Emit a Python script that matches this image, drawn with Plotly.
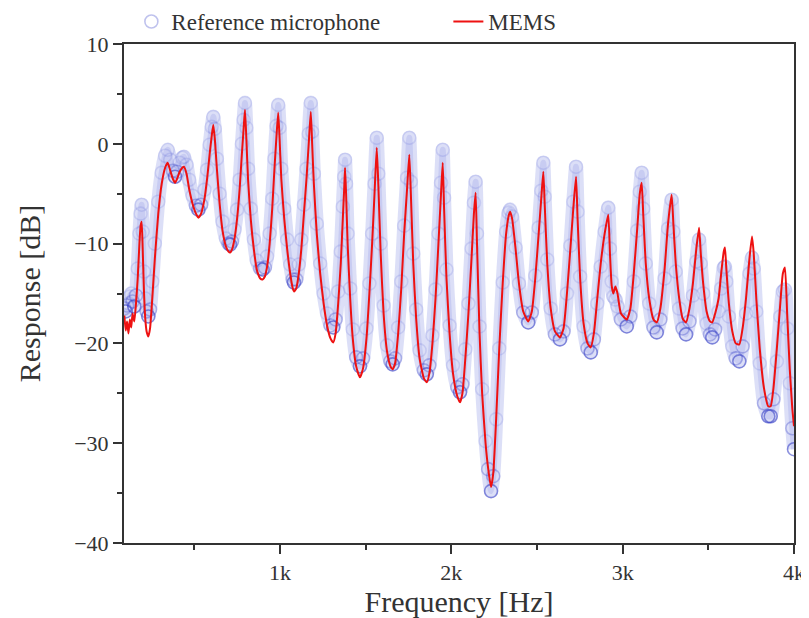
import plotly.graph_objects as go

# Frequency points (Hz)
freq = [92, 100, 108, 116, 124, 132, 140, 150, 160, 170, 180, 187, 193, 199, 206, 214, 222, 232, 242, 255,
        270, 290, 310, 330, 345, 360, 375, 388, 400, 415, 430, 440, 455, 470, 490, 510, 524, 540, 560, 575,
        590, 602, 611, 620, 632, 648, 665, 685, 700, 709, 720, 735, 750, 765, 778, 788, 796, 804, 814, 830,
        848, 865, 885, 899, 912, 925, 940, 955, 968, 980, 990, 998, 1008, 1025, 1042, 1060, 1075, 1082, 1095, 1110,
        1125, 1140, 1155, 1168, 1180, 1188, 1198, 1215, 1235, 1255, 1275, 1295, 1311, 1325, 1340, 1355, 1367, 1375, 1380, 1386,
        1395, 1410, 1425, 1445, 1467, 1485, 1505, 1522, 1538, 1552, 1565, 1574, 1588, 1605, 1625, 1645, 1658, 1672, 1690, 1708,
        1725, 1742, 1755, 1764, 1778, 1795, 1815, 1840, 1857, 1872, 1890, 1908, 1925, 1940, 1950, 1958, 1972, 1990, 2010, 2035,
        2051, 2065, 2082, 2100, 2118, 2132, 2142, 2150, 2165, 2180, 2200, 2215, 2232, 2245, 2262, 2280, 2300, 2320, 2335, 2343,
        2355, 2375, 2395, 2420, 2449, 2470, 2490, 2510, 2525, 2537, 2545, 2560, 2580, 2605, 2634, 2655, 2675, 2695, 2712, 2728,
        2737, 2752, 2772, 2795, 2814, 2832, 2852, 2872, 2895, 2916, 2926, 2936, 2946, 2958, 2970, 2990, 3024, 3045, 3065, 3085,
        3100, 3111, 3120, 3135, 3155, 3180, 3199, 3220, 3245, 3265, 3286, 3296, 3310, 3330, 3350, 3370, 3390, 3410, 3430, 3446,
        3456, 3470, 3490, 3510, 3523, 3540, 3560, 3575, 3590, 3597, 3605, 3620, 3640, 3660, 3681, 3700, 3720, 3740, 3755, 3765,
        3780, 3800, 3825, 3850, 3864, 3880, 3900, 3920, 3935, 3947, 3960, 3975, 3990, 4000]

# MEMS response (dB)
mems_db = [-17.2, -18.7, -17.8, -19.0, -17.6, -18.4, -17.0, -17.8, -16.0, -13.5, -10.0, -8.2, -7.8, -10.5, -14.5, -17.5, -18.8, -19.3, -18.5, -15.5,
           -11.5, -7.0, -4.0, -2.4, -1.9, -2.7, -3.5, -3.9, -3.5, -2.8, -2.4, -2.3, -3.0, -4.5, -6.0, -7.0, -7.4, -7.0, -5.5, -3.5,
           -1.0, 0.8, 1.9, 0.5, -2.5, -6.0, -8.7, -10.3, -10.8, -10.9, -10.6, -9.5, -7.5, -4.5, -1.0, 1.5, 3.4, 0.5, -3.6, -7.6,
           -10.6, -12.6, -13.5, -13.6, -13.3, -12.3, -10.0, -6.5, -2.5, 0.8, 3.1, 0.5, -3.5, -7.5, -10.5, -13.0, -14.5, -14.8, -14.5, -13.0,
           -10.5, -7.0, -3.5, 0.0, 3.2, 0.0, -4.0, -9.0, -13.0, -16.0, -18.2, -19.5, -19.9, -19.0, -16.0, -12.0, -7.5, -4.5, -2.4, -5.0,
           -10.0, -15.5, -19.5, -22.3, -23.4, -22.5, -19.5, -15.0, -10.0, -5.0, -0.4, -4.0, -11.0, -17.0, -20.8, -22.3, -22.6, -22.0, -19.0, -14.5,
           -9.0, -4.5, -1.1, -5.0, -12.0, -17.5, -21.5, -23.5, -23.9, -23.0, -20.0, -15.5, -10.0, -5.0, -1.9, -6.5, -13.5, -19.0, -23.0, -25.3,
           -25.9, -25.0, -21.5, -17.0, -11.5, -7.0, -4.9, -10.0, -19.0, -25.0, -30.0, -32.5, -34.4, -33.0, -27.5, -20.5, -14.0, -9.0, -7.2, -6.8,
           -7.5, -10.5, -14.0, -16.8, -17.8, -16.8, -13.5, -9.0, -5.5, -2.8, -6.0, -12.0, -16.5, -18.8, -19.4, -18.5, -15.0, -10.5, -6.5, -3.3,
           -7.5, -13.5, -18.0, -20.0, -20.4, -19.0, -15.5, -12.0, -9.0, -7.1, -11.0, -14.2, -15.0, -14.3, -15.0, -17.0, -17.6, -16.5, -13.0, -8.5,
           -5.0, -3.9, -7.0, -12.0, -15.5, -17.6, -17.9, -16.5, -12.5, -8.0, -5.1, -8.0, -12.0, -15.5, -17.5, -17.9, -16.5, -14.0, -10.5, -8.4,
           -11.0, -14.0, -16.8, -17.8, -17.9, -17.0, -15.5, -13.0, -10.8, -10.4, -12.5, -16.0, -18.8, -20.0, -20.1, -18.5, -15.5, -11.5, -9.3, -11.0,
           -15.5, -20.5, -24.5, -26.3, -26.3, -24.5, -20.5, -16.0, -13.0, -12.4, -17.0, -22.5, -26.5, -28.3]

# Reference microphone response (dB)
ref_db = [-16.5, -16.8, -16.2, -16.0, -15.3, -15.0, -15.8, -16.3, -15.2, -12.5, -9.0, -7.0, -6.1, -8.8, -12.8, -15.5, -16.8, -17.3, -16.6, -13.8,
          -10.0, -5.8, -2.9, -1.2, -0.6, -1.6, -2.7, -3.3, -2.8, -1.9, -1.4, -1.3, -2.1, -3.6, -5.2, -6.2, -6.6, -6.1, -4.6, -2.6,
          -0.1, 1.7, 2.7, 1.5, -1.5, -5.0, -7.8, -9.5, -10.0, -10.1, -9.8, -8.6, -6.6, -3.6, 0.0, 2.4, 4.1, 1.6, -2.5, -6.5,
          -9.6, -11.7, -12.5, -12.6, -12.4, -11.3, -9.0, -5.5, -1.5, 1.8, 3.9, 1.6, -2.5, -6.5, -9.6, -12.1, -13.6, -13.9, -13.6, -12.1,
          -9.6, -6.1, -2.5, 1.0, 4.1, 1.2, -3.0, -8.0, -12.0, -15.0, -17.0, -18.2, -18.4, -17.6, -14.8, -10.8, -6.3, -3.3, -1.6, -4.0,
          -9.0, -14.5, -18.6, -21.4, -22.3, -21.5, -18.5, -14.0, -9.0, -4.0, 0.6, -3.0, -10.0, -16.2, -20.2, -21.8, -22.1, -21.5, -18.4, -13.8,
          -8.2, -3.4, 0.6, -3.8, -11.0, -16.6, -20.7, -22.7, -23.1, -22.2, -19.2, -14.6, -9.0, -3.9, -0.6, -5.4, -12.6, -18.2, -22.2, -24.4,
          -24.9, -24.1, -20.6, -16.0, -10.5, -5.9, -3.8, -9.0, -18.3, -24.6, -29.8, -32.6, -34.8, -33.3, -27.6, -20.5, -13.9, -8.8, -6.9, -6.6,
          -7.3, -10.4, -14.0, -16.9, -17.9, -16.9, -13.2, -8.4, -4.7, -1.9, -5.3, -11.6, -16.5, -19.1, -19.6, -18.8, -15.0, -10.2, -5.8, -2.3,
          -6.8, -13.3, -18.3, -20.5, -20.9, -19.6, -16.0, -12.3, -8.8, -6.4, -10.5, -13.8, -15.3, -15.6, -16.3, -17.6, -18.3, -17.3, -13.8, -8.7,
          -4.8, -2.9, -6.5, -12.0, -16.0, -18.4, -18.9, -17.6, -13.5, -8.5, -5.6, -8.8, -12.8, -16.5, -18.5, -19.1, -17.8, -15.2, -11.8, -9.6,
          -12.0, -15.0, -18.0, -19.1, -19.4, -18.6, -16.8, -14.5, -12.4, -12.3, -13.8, -17.3, -20.3, -21.5, -21.8, -20.3, -17.0, -13.0, -11.4, -12.5,
          -16.8, -22.0, -26.0, -27.3, -27.3, -25.6, -21.8, -17.3, -14.8, -14.6, -18.5, -24.0, -28.5, -30.6]

x_tickvals = [1000, 2000, 3000, 4000]
x_ticktext = ["1k", "2k", "3k", "4k"]
y_tickvals = [-40, -30, -20, -10, 0, 10]

SERIF = "Liberation Serif"

# Styling: circles overlap densely in the troughs of the reference curve, so they look darker there
n = len(ref_db)
ring_colors = []
for i in range(n):
    lo = ref_db[max(i - 1, 0)]
    hi = ref_db[min(i + 1, n - 1)]
    if ref_db[i] <= lo and ref_db[i] <= hi:
        ring_colors.append("rgba(45,55,195,0.55)")
    elif (i > 0 and ref_db[i - 1] <= ref_db[max(i - 2, 0)] and ref_db[i - 1] <= ref_db[i]) or \
         (i < n - 1 and ref_db[i + 1] <= ref_db[i] and ref_db[i + 1] <= ref_db[min(i + 2, n - 1)]):
        ring_colors.append("rgba(55,65,200,0.32)")
    else:
        ring_colors.append("rgba(70,80,205,0.15)")

fig = go.Figure()

# Reference microphone: broad translucent band + faint open circles
fig.add_trace(go.Scatter(
    x=freq, y=ref_db, mode="lines", line=dict(color="rgba(140,150,228,0.30)", width=14, shape="spline", smoothing=0.6),
    showlegend=False, hoverinfo="skip"))
fig.add_trace(go.Scatter(
    x=freq, y=ref_db, mode="lines", line=dict(color="rgba(110,120,220,0.18)", width=6, shape="spline", smoothing=0.6),
    showlegend=False, hoverinfo="skip"))
fig.add_trace(go.Scatter(
    x=freq, y=ref_db, mode="markers", name="Reference microphone",
    marker=dict(symbol="circle-open", size=13, color=ring_colors, line=dict(width=1.6))))

# MEMS
fig.add_trace(go.Scatter(
    x=freq, y=mems_db, mode="lines", name="MEMS",
    line=dict(color="#ee1111", width=2, shape="spline", smoothing=0.5)))

axis_common = dict(showline=True, linecolor="#333333", linewidth=2, mirror=True, ticks="outside",
                   ticklen=9, tickwidth=1.5, tickcolor="#333333", showgrid=False, zeroline=False,
                   automargin=False,
                   tickfont=dict(family=SERIF, size=22, color="#333333"))

# the page body adds an 8 px offset, so the figure is 8 px smaller than the window on each axis
fig.update_layout(
    width=801, height=610,
    margin=dict(l=116, r=15, t=36, b=75, autoexpand=False),
    paper_bgcolor="white", plot_bgcolor="white",
    xaxis=dict(range=[90, 4000], tickvals=x_tickvals, ticktext=x_ticktext,
               minor=dict(tickvals=[500, 1500, 2500, 3500], ticks="outside", ticklen=5, tickcolor="#333333"),
               title=dict(text="Frequency [Hz]", font=dict(family=SERIF, size=30, color="#333333"), standoff=4),
               **axis_common),
    yaxis=dict(range=[-40, 10], tickvals=y_tickvals,
               minor=dict(dtick=5, ticks="outside", ticklen=5, tickcolor="#333333"),
               title=dict(text="Response [dB]", font=dict(family=SERIF, size=30, color="#333333"), standoff=25),
               **axis_common),
    legend=dict(orientation="h", x=0.011, xanchor="left", y=1.045, yanchor="middle",
                font=dict(family=SERIF, size=23, color="#333333"), entrywidth=272, entrywidthmode="pixels",
                bgcolor="rgba(0,0,0,0)"),
)

fig.write_html("out.html")
